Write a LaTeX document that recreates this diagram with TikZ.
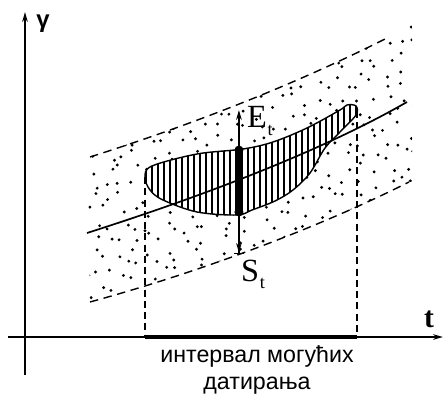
\documentclass[tikz,border=0pt]{standalone}
\usepackage{fontspec}
\setmainfont{Liberation Serif}
\newfontfamily\capfont{Liberation Sans}
\usetikzlibrary{arrows.meta}

\tikzset{
  axisline/.style={line width=1pt,-{Stealth[length=7pt,width=4pt]}},
  boundline/.style={line width=1pt,dash pattern=on 6pt off 4pt},
  dropline/.style={line width=0.9pt,dash pattern=on 5pt off 3pt},
  hatchline/.style={line width=0.9pt},
  limitarrow/.style={line width=0.9pt},
}
\newcommand\lenspath{plot[smooth cycle,tension=0.55] coordinates {(145,220) (150,207) (163,197) (197,185) (237,182) (252,187) (275,196) (293,207) (310,224) (325,249) (340,265) (356,282) (356,291) (347,292) (340,287) (307,269) (273,255) (243,248) (197,243) (152,231)}}

\begin{document}
\begin{tikzpicture}[xscale=0.025,yscale=0.025]
\useasboundingbox (0,0) rectangle (444,397);
% axes
\coordinate (ybot) at (25,22);
\coordinate (ytop) at (25,385);
\coordinate (xleft) at (8,60);
\coordinate (xright) at (443,60);
\draw[axisline] (ybot) -- (ytop);
\draw[axisline] (xleft) -- (xright);
\node[font=\capfont\bfseries\fontsize{17}{17}\selectfont] (gam) at (43,373) {γ};
\node[font=\bfseries\fontsize{21}{21}\selectfont] (tlab) at (429,78) {t};
% stippled band
\begin{scope}
\clip (88,240) .. controls (200,275) and (300,315) .. (389,360) -- (412,372) -- (412,215) -- (409,215) .. controls (320,170) and (200,125) .. (90,95) -- cycle;
\pgfmathsetseed{42}
\foreach \gx in {88,102,...,412}
  \foreach \gy in {95,109,...,372}{
    \pgfmathsetmacro\dx{\gx+13*rnd}
    \pgfmathsetmacro\dy{\gy+13*rnd}
    \fill (\dx,\dy) circle (1.6);
  }
\end{scope}
\draw[boundline] (90,240) .. controls (200,275) and (300,315) .. (389,360);
\draw[boundline] (90,95) .. controls (200,125) and (320,170) .. (409,215);
% hatched region
\fill[white] \lenspath;
\begin{scope}
\clip \lenspath;
\foreach \x in {140,146,...,362}
  \draw[hatchline] (\x,170) -- (\x,300);
\end{scope}
\draw[line width=1pt] \lenspath;
\draw[line width=1.2pt] (87,164) .. controls (200,200) and (320,245) .. (407,295);
% dating interval
\coordinate (lo) at (145,220);
\coordinate (hi) at (357,286);
\coordinate (loaxis) at (145,60);
\coordinate (hiaxis) at (357,60);
\draw[dropline] (lo) -- (loaxis);
\draw[dropline] (hi) -- (hiaxis);
\draw[line width=3pt] (loaxis) -- (hiaxis);
% E_t and S_t
\coordinate (stop) at (239,247);
\coordinate (sbot) at (239,185);
\coordinate (etip) at (239,287);
\coordinate (stip) at (239,143);
\draw[line width=3pt] (stop) -- (sbot);
\fill (stop) circle (4.5);
\fill (sbot) circle (4.5);
\draw[limitarrow,-{Stealth[length=7pt,width=4pt]}] (stop) -- (etip);
\draw[limitarrow,-{Stealth[length=7pt,width=4pt] Bar[width=7pt]}] (sbot) -- (stip);
\node[font=\fontsize{23}{23}\selectfont] (Et) at (260,276) {E\kern0.5pt\lower5pt\hbox{\fontsize{13}{13}\selectfont t}};
\node[font=\fontsize{23}{23}\selectfont] (St) at (253,123) {S\kern0.5pt\lower5pt\hbox{\fontsize{13}{13}\selectfont t}};
\node[font=\capfont\fontsize{16.5}{19}\selectfont,align=center] (interval) at (257,27) {интервал могућих\\датирања};
\end{tikzpicture}
\end{document}
